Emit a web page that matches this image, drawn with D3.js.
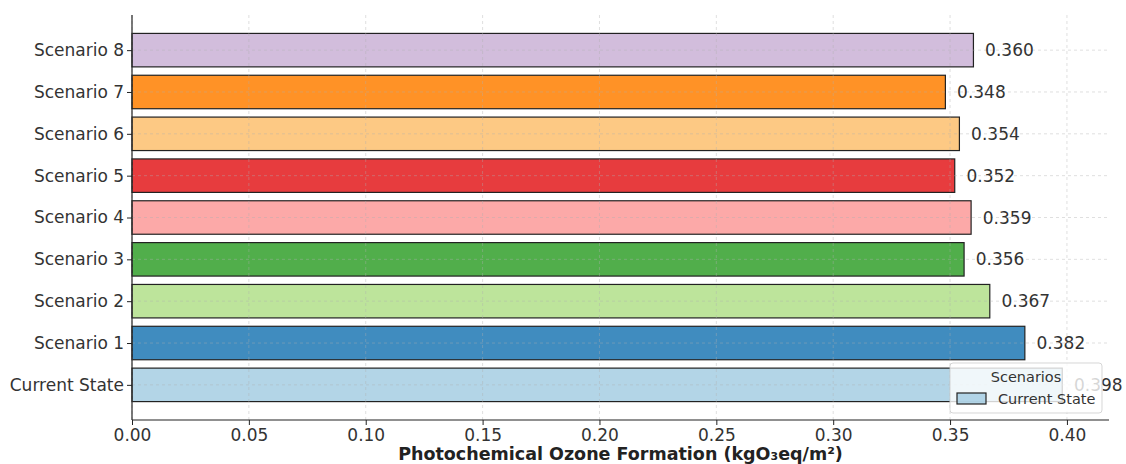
<!DOCTYPE html>
<html>
<head>
<meta charset="utf-8">
<script src="https://cdn.jsdelivr.net/npm/d3@7"></script>
<style>
  html, body { margin: 0; padding: 0; background: #fff; }
  svg { display: block; font-family: "DejaVu Sans", sans-serif; }
</style>
</head>
<body>
<svg id="chart" width="1126" height="464"></svg>
<script>
// Photochemical ozone formation per scenario (kgO3eq/m²)
const categories = ["Current State", "Scenario 1", "Scenario 2", "Scenario 3", "Scenario 4",
                    "Scenario 5", "Scenario 6", "Scenario 7", "Scenario 8"];
const values = [0.398, 0.382, 0.367, 0.356, 0.359, 0.352, 0.354, 0.348, 0.360];
const colors = ["#a6cee3", "#1f78b4", "#b2df8a", "#33a02c", "#fb9a99",
                "#e31a1c", "#fdbf6f", "#ff7f00", "#cab2d6"];
const xTicks = [0.00, 0.05, 0.10, 0.15, 0.20, 0.25, 0.30, 0.35, 0.40];
const xLabel = "Photochemical Ozone Formation (kgO₃eq/m²)";
const legendTitle = "Scenarios";

const svg = d3.select("#chart");
const plotL = 132, plotR = 1109, plotT = 15, plotB = 420;

const x = d3.scaleLinear().domain([0, 0.418]).range([plotL, plotR]);
// continuous y in category-index units, first category at the bottom
const y = d3.scaleLinear().domain([-0.84, categories.length - 1 + 0.84]).range([plotB, plotT]);
const barH = y(0) - y(0.8);

// bars
svg.append("g").selectAll("rect")
  .data(values)
  .join("rect")
  .attr("x", x(0))
  .attr("y", (d, i) => y(i + 0.4))
  .attr("width", d => x(d) - x(0))
  .attr("height", barH)
  .attr("fill", (d, i) => colors[i])
  .attr("fill-opacity", 0.85)
  .attr("stroke", "#222")
  .attr("stroke-width", 1.2);

// dashed grid lines
const grid = svg.append("g").attr("stroke", "#b0b0b0").attr("stroke-opacity", 0.5)
  .attr("stroke-dasharray", "3,3").attr("stroke-width", 0.8);
grid.selectAll(".gx").data(xTicks).join("line")
  .attr("x1", d => x(d)).attr("x2", d => x(d))
  .attr("y1", plotT).attr("y2", plotB);
grid.selectAll(".gy").data(categories).join("line")
  .attr("x1", plotL).attr("x2", plotR)
  .attr("y1", (d, i) => y(i)).attr("y2", (d, i) => y(i));

// value labels
svg.append("g").selectAll("text")
  .data(values)
  .join("text")
  .attr("x", d => x(d + 0.005))
  .attr("y", (d, i) => y(i))
  .attr("dy", "0.36em")
  .attr("font-size", 17)
  .attr("fill", "#333")
  .text(d => d.toFixed(3));

// x axis
const xAxis = svg.append("g").attr("transform", `translate(0,${plotB})`)
  .call(d3.axisBottom(x).tickValues(xTicks).tickFormat(d3.format(".2f")).tickSizeOuter(0).tickSize(5).tickPadding(4));
xAxis.select(".domain").attr("stroke", "#222").attr("stroke-width", 1.2)
  .attr("d", `M${plotL},0H${plotR}`);
xAxis.selectAll(".tick line").attr("stroke", "#222");
xAxis.selectAll("text").attr("font-size", 17).attr("fill", "#333").attr("font-family", "DejaVu Sans");

// y axis
const yAxis = svg.append("g").attr("transform", `translate(${plotL},0)`)
  .call(d3.axisLeft(y).tickValues(d3.range(categories.length)).tickFormat(i => categories[i])
    .tickSizeOuter(0).tickSize(5).tickPadding(3));
yAxis.select(".domain").attr("stroke", "#222").attr("stroke-width", 1.2)
  .attr("d", `M0,${plotT}V${plotB}`);
yAxis.selectAll(".tick line").attr("stroke", "#222");
yAxis.selectAll("text").attr("font-size", 17).attr("fill", "#333").attr("font-family", "DejaVu Sans");

// x axis title
svg.append("text")
  .attr("x", (plotL + plotR) / 2)
  .attr("y", 460)
  .attr("text-anchor", "middle")
  .attr("font-size", 17.5)
  .attr("font-weight", "bold")
  .attr("fill", "#222")
  .text(xLabel);

// legend
const lg = svg.append("g").attr("transform", "translate(950,363)");
lg.append("rect")
  .attr("width", 152).attr("height", 50).attr("rx", 3)
  .attr("fill", "#fff").attr("fill-opacity", 0.8)
  .attr("stroke", "#ccc").attr("stroke-opacity", 0.8);
lg.append("text")
  .attr("x", 76).attr("y", 19)
  .attr("text-anchor", "middle")
  .attr("font-size", 14.5).attr("fill", "#333")
  .text(legendTitle);
lg.append("rect")
  .attr("x", 7).attr("y", 30).attr("width", 29).attr("height", 11)
  .attr("fill", colors[0]).attr("fill-opacity", 0.85)
  .attr("stroke", "#222").attr("stroke-width", 1.2);
lg.append("text")
  .attr("x", 48).attr("y", 41)
  .attr("font-size", 14.5).attr("fill", "#333")
  .text(categories[0]);
</script>
</body>
</html>
